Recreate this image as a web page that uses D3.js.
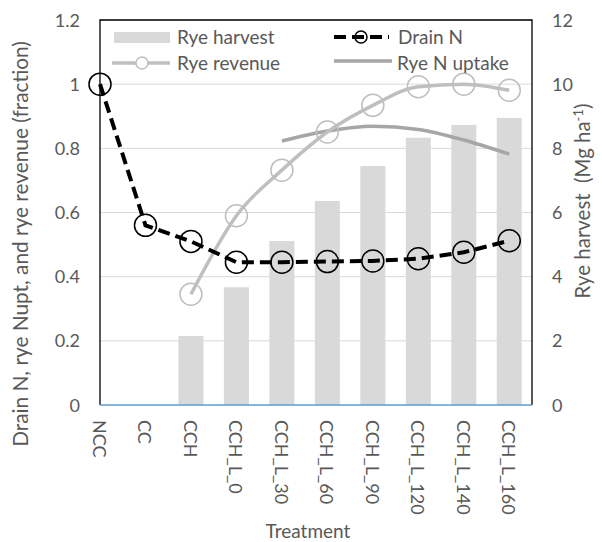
<!DOCTYPE html>
<html>
<head>
<meta charset="utf-8">
<script src="https://cdn.jsdelivr.net/npm/d3@7"></script>
<style>
body { margin: 0; background: #fff; }
text { font-family: Lato, "Open Sans", sans-serif; fill: #595959; }
</style>
</head>
<body>
<div id="chart"></div>
<script>
// ********** CHART DATA **********
const treatments = ["NCC", "CC", "CCH", "CCH_L_0", "CCH_L_30", "CCH_L_60", "CCH_L_90", "CCH_L_120", "CCH_L_140", "CCH_L_160"];
const ryeHarvest = [null, null, 2.15, 3.67, 5.11, 6.36, 7.45, 8.33, 8.73, 8.95];
const drainN = [1.0, 0.56, 0.51, 0.445, 0.445, 0.447, 0.449, 0.456, 0.476, 0.512];
const ryeRevenue = [null, null, 0.345, 0.59, 0.732, 0.851, 0.934, 0.992, 1.0, 0.981];
const ryeNUptake = [null, null, null, null, 0.823, 0.854, 0.869, 0.859, 0.826, 0.782];
const leftTicks = [0, 0.2, 0.4, 0.6, 0.8, 1, 1.2];
const rightTicks = [0, 2, 4, 6, 8, 10, 12];

const width = 602, height = 542;
const plot = {left: 100, right: 532, top: 20, bottom: 405};

const svg = d3.select("#chart")
	.append("svg")
	.attr("width", width)
	.attr("height", height);

// point scale: first category sits on the left edge, half a step of room on the right
const step = (plot.right - plot.left) / (treatments.length - 0.5);
const x = d3.scalePoint()
	.domain(treatments)
	.range([plot.left, plot.left + step * (treatments.length - 1)]);

const yLeft = d3.scaleLinear().domain([0, 1.2]).range([plot.bottom, plot.top]);
const yRight = d3.scaleLinear().domain([0, 12]).range([plot.bottom, plot.top]);

// gridlines
svg.append("g")
	.selectAll("line")
	.data(leftTicks.slice(1))
	.enter()
	.append("line")
	.attr("x1", plot.left)
	.attr("x2", plot.right)
	.attr("y1", d => yLeft(d))
	.attr("y2", d => yLeft(d))
	.style("stroke", "#d9d9d9")
	.style("stroke-width", 1);

// rye harvest bars
const barW = 25;
svg.append("g")
	.selectAll("rect")
	.data(treatments.map((t, i) => ({t, v: ryeHarvest[i]})).filter(d => d.v != null))
	.enter()
	.append("rect")
	.attr("x", d => x(d.t) - barW / 2)
	.attr("width", barW)
	.attr("y", d => yRight(d.v))
	.attr("height", d => plot.bottom - yRight(d.v))
	.style("fill", "#d9d9d9");

// frame
svg.append("path")
	.attr("d", `M${plot.left},${plot.bottom}V${plot.top}H${plot.right}V${plot.bottom}`)
	.style("fill", "none")
	.style("stroke", "#000")
	.style("stroke-width", 1.3);
svg.append("line")
	.attr("x1", plot.left).attr("x2", plot.right)
	.attr("y1", plot.bottom).attr("y2", plot.bottom)
	.style("stroke", "#5b9bd5")
	.style("stroke-width", 1.5);

const line = d3.line()
	.defined(d => d.v != null)
	.x(d => x(d.t))
	.y(d => yLeft(d.v))
	.curve(d3.curveMonotoneX);

const toPts = arr => treatments.map((t, i) => ({t, v: arr[i]}));

// rye N uptake
svg.append("path")
	.datum(toPts(ryeNUptake))
	.attr("d", line)
	.style("fill", "none")
	.style("stroke", "#a6a6a6")
	.style("stroke-width", 3.5);

// rye revenue
svg.append("path")
	.datum(toPts(ryeRevenue))
	.attr("d", line)
	.style("fill", "none")
	.style("stroke", "#bfbfbf")
	.style("stroke-width", 3.5);
svg.append("g")
	.selectAll("circle")
	.data(toPts(ryeRevenue).filter(d => d.v != null))
	.enter()
	.append("circle")
	.attr("cx", d => x(d.t))
	.attr("cy", d => yLeft(d.v))
	.attr("r", 11)
	.style("fill", "none")
	.style("stroke", "#bfbfbf")
	.style("stroke-width", 1.5);

// drain N
svg.append("path")
	.datum(toPts(drainN))
	.attr("d", line.curve(d3.curveLinear))
	.style("fill", "none")
	.style("stroke", "#000")
	.style("stroke-width", 4)
	.style("stroke-dasharray", "12,6");
svg.append("g")
	.selectAll("circle")
	.data(toPts(drainN))
	.enter()
	.append("circle")
	.attr("cx", d => x(d.t))
	.attr("cy", d => yLeft(d.v))
	.attr("r", 11)
	.style("fill", "none")
	.style("stroke", "#000")
	.style("stroke-width", 1.5);

// axes
const fs = 19, tfs = 18;
svg.append("g")
	.selectAll("text")
	.data(leftTicks)
	.enter()
	.append("text")
	.attr("x", 80)
	.attr("y", d => yLeft(d) + 6.5)
	.attr("text-anchor", "end")
	.style("font-size", tfs + "px")
	.text(d => d);

svg.append("g")
	.selectAll("text")
	.data(rightTicks)
	.enter()
	.append("text")
	.attr("x", 552)
	.attr("y", d => yRight(d) + 6.5)
	.style("font-size", tfs + "px")
	.text(d => d);

svg.append("g")
	.selectAll("text")
	.data(treatments)
	.enter()
	.append("text")
	.attr("transform", d => `translate(${x(d) - 7},420) rotate(90)`)
	.style("font-size", tfs + "px")
	.text(d => d);

svg.append("text")
	.attr("x", 308)
	.attr("y", 538)
	.attr("text-anchor", "middle")
	.style("font-size", fs + "px")
	.text("Treatment");

// shrink/grow a title until it covers the same run as in the original
const fitLength = (sel, target) => {
	const len = sel.node().getComputedTextLength();
	const size = parseFloat(sel.style("font-size")) * target / len;
	sel.style("font-size", size + "px");
};

const lt = svg.append("text")
	.attr("transform", "translate(28,244) rotate(-90)")
	.attr("text-anchor", "middle")
	.style("font-size", fs + "px")
	.text("Drain N, rye Nupt, and rye revenue (fraction)");
fitLength(lt, 406);

const rt = svg.append("text")
	.attr("transform", "translate(590,201) rotate(-90)")
	.attr("text-anchor", "middle")
	.style("white-space", "pre")
	.style("font-size", fs + "px");
rt.append("tspan").text("Rye harvest  (Mg ha");
rt.append("tspan").attr("dy", -7).style("font-size", "13px").text("-1");
rt.append("tspan").attr("dy", 7).text(")");
fitLength(rt, 196);

// legend
const legend = svg.append("g");
legend.append("rect").attr("x", 114).attr("y", 32).attr("width", 56).attr("height", 11).style("fill", "#d9d9d9");
legend.append("text").attr("x", 177).attr("y", 44).style("font-size", fs + "px").text("Rye harvest");
legend.append("line").attr("x1", 112).attr("x2", 170).attr("y1", 63).attr("y2", 63)
	.style("stroke", "#bfbfbf").style("stroke-width", 3.5);
legend.append("circle").attr("cx", 142).attr("cy", 63).attr("r", 6)
	.style("fill", "#fff").style("stroke", "#bfbfbf").style("stroke-width", 1.5);
legend.append("text").attr("x", 177).attr("y", 70).style("font-size", fs + "px").text("Rye revenue");
legend.append("line").attr("x1", 334).attr("x2", 389).attr("y1", 37).attr("y2", 37)
	.style("stroke", "#000").style("stroke-width", 4).style("stroke-dasharray", "12,6");
legend.append("circle").attr("cx", 361).attr("cy", 37).attr("r", 6)
	.style("fill", "none").style("stroke", "#000").style("stroke-width", 1.5);
legend.append("text").attr("x", 398).attr("y", 44).style("font-size", fs + "px").text("Drain N");
legend.append("line").attr("x1", 334).attr("x2", 392).attr("y1", 61).attr("y2", 61)
	.style("stroke", "#a6a6a6").style("stroke-width", 3.5);
legend.append("text").attr("x", 397).attr("y", 70).style("font-size", fs + "px").text("Rye N uptake");
</script>
</body>
</html>
